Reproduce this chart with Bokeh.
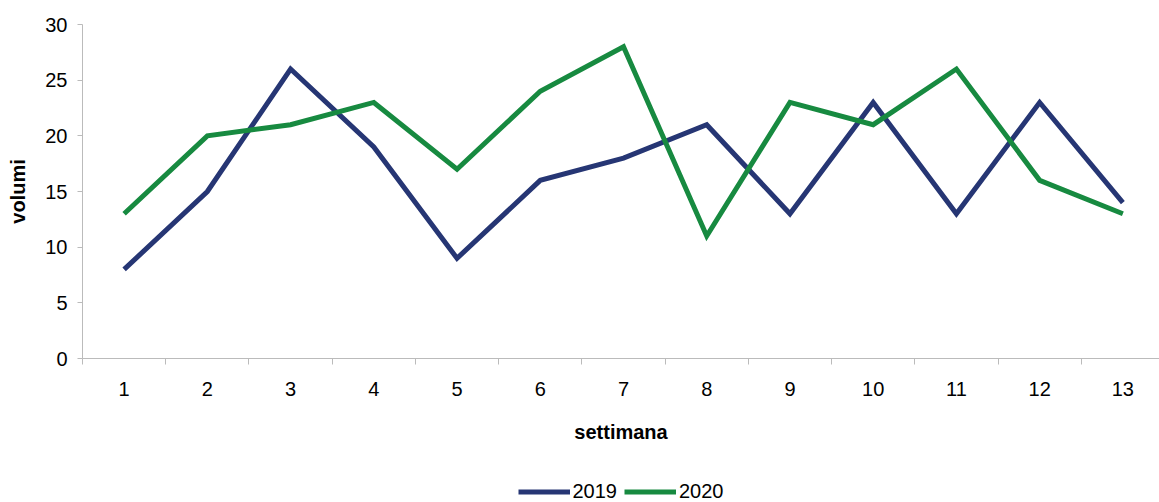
from bokeh.plotting import figure
from bokeh.layouts import column
from bokeh.models import Range1d, FixedTicker, Legend, LegendItem
from bokeh.embed import file_html
from bokeh.resources import INLINE

weeks = list(range(1, 14))
week_labels = [str(w) for w in weeks]
v2019 = [8, 15, 26, 19, 9, 16, 18, 21, 13, 23, 13, 23, 14]
v2020 = [13, 20, 21, 23, 17, 24, 28, 11, 23, 21, 26, 16, 13]
series_names = ["2019", "2020"]
colors = ["#263674", "#178A40"]

FONT = "Liberation Sans"

p = figure(width=1159, height=470, output_backend="svg", toolbar_location=None,
           x_range=Range1d(0.5, 13.44), y_range=Range1d(0, 30),
           min_border_left=82, min_border_right=0, min_border_top=24,
           min_border_bottom=112)
p.outline_line_color = None
p.xgrid.grid_line_color = None
p.ygrid.grid_line_color = None

r1 = p.line(weeks, v2019, line_color=colors[0], line_width=5, line_join="miter")
r2 = p.line(weeks, v2020, line_color=colors[1], line_width=5, line_join="miter")

xa = p.xaxis[0]
xa.ticker = FixedTicker(ticks=weeks, minor_ticks=[w + 0.5 for w in range(0, 14)])
xa.major_label_overrides = {w: l for w, l in zip(weeks, week_labels)}
xa.major_tick_line_color = None
xa.major_tick_out = 6
xa.minor_tick_line_color = "#BBBBBB"
xa.minor_tick_in = 0
xa.minor_tick_out = 6
xa.axis_line_color = "#BBBBBB"
xa.major_label_text_font = FONT
xa.major_label_text_font_size = "20px"
xa.major_label_text_color = "#000000"
xa.major_label_standoff = 17
xa.axis_label = "settimana"
xa.axis_label_text_font = FONT
xa.axis_label_text_font_style = "bold"
xa.axis_label_text_font_size = "20px"
xa.axis_label_text_color = "#000000"
xa.axis_label_standoff = 22

ya = p.yaxis[0]
ya.ticker = FixedTicker(ticks=[0, 5, 10, 15, 20, 25, 30])
ya.minor_tick_line_color = None
ya.major_tick_line_color = "#BBBBBB"
ya.major_tick_in = 0
ya.major_tick_out = 5
ya.axis_line_color = "#BBBBBB"
ya.major_label_text_font = FONT
ya.major_label_text_font_size = "20px"
ya.major_label_text_color = "#000000"
ya.major_label_standoff = 10
ya.axis_label = "volumi"
ya.axis_label_text_font = FONT
ya.axis_label_text_font_style = "bold"
ya.axis_label_text_font_size = "20px"
ya.axis_label_text_color = "#000000"
ya.axis_label_standoff = 13

# legend strip (its lines lie outside its own ranges, so only the legend shows)
pl = figure(width=1159, height=32, output_backend="svg", toolbar_location=None,
            x_range=Range1d(0, 1), y_range=Range1d(-2, -1),
            min_border_left=82, min_border_right=0, min_border_top=10,
            min_border_bottom=0)
pl.outline_line_color = None
pl.axis.visible = False
pl.grid.visible = False
l1 = pl.line(weeks, v2019, line_color=colors[0], line_width=5)
l2 = pl.line(weeks, v2020, line_color=colors[1], line_width=5)
legend = Legend(items=[LegendItem(label=series_names[0], renderers=[l1]),
                       LegendItem(label=series_names[1], renderers=[l2])],
                orientation="horizontal", location="center",
                border_line_color=None, background_fill_alpha=0,
                glyph_width=52, glyph_height=10, label_standoff=3, spacing=7,
                label_text_font=FONT, label_text_font_size="20px",
                label_text_color="#000000",
                padding=0, margin=0)
pl.add_layout(legend, "center")

open("out.html", "w").write(file_html(column(p, pl, spacing=0), INLINE))
